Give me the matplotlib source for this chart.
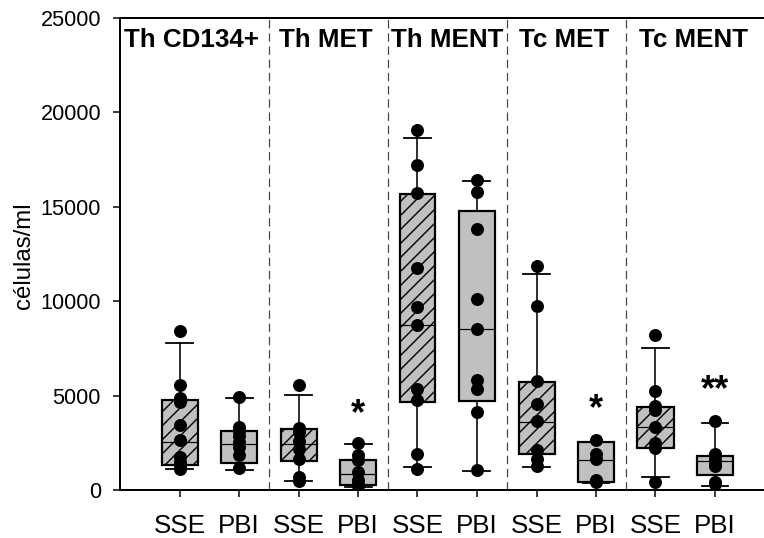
import matplotlib
matplotlib.use("Agg")
import matplotlib.pyplot as plt
import numpy as np

DPI = 84


def pt(px):
    """Convert a size in pixels to points at the figure resolution."""
    return px * 72.0 / DPI


plt.rcParams["font.family"] = ["Liberation Sans", "DejaVu Sans"]
plt.rcParams["hatch.linewidth"] = pt(1.4)
plt.rcParams["hatch.color"] = "black"

# Cell populations and sample types
groups = ["Th CD134+", "Th MET", "Th MENT", "Tc MET", "Tc MENT"]
conditions = ["SSE", "PBI"]

# Individual measurements (cells/ml), one list per box: SSE, PBI for each group
points = [
    [8400, 5550, 4850, 4650, 3450, 2650, 1750, 1500, 1250, 1100],
    [4900, 3350, 3100, 2850, 2550, 2300, 1850, 1150],
    [5550, 3300, 3050, 2600, 2150, 1650, 700, 500],
    [2500, 1850, 1600, 950, 550, 300, 200],
    [19050, 17200, 15750, 11750, 9700, 8750, 5350, 4750, 1900, 1100],
    [16400, 15800, 13850, 10100, 8550, 5800, 5350, 4150, 1050],
    [11850, 9750, 5750, 4550, 3650, 2100, 1650, 1250],
    [2650, 1900, 1650, 550, 400],
    [8200, 5250, 4450, 4250, 3350, 2500, 2200, 400],
    [3650, 1900, 1650, 1400, 1250, 450, 300],
]

# Box summaries (10th, 25th, 50th, 75th, 90th percentiles)
whislo = [1120, 1060, 500, 180, 1200, 1030, 1240, 350, 700, 220]
q1 = [1330, 1420, 1540, 290, 4660, 4710, 1930, 440, 2210, 800]
median = [2520, 2450, 2410, 860, 8730, 8510, 3590, 1570, 3350, 1520]
q3 = [4770, 3120, 3210, 1600, 15700, 14800, 5700, 2550, 4420, 1790]
whishi = [7800, 4880, 5050, 2430, 18650, 16380, 11420, 2550, 7530, 3570]

# Significance marks: box index, symbol, height
sig_boxes = [3, 7, 9]
sig_labels = ["*", "*", "**"]
sig_heights = [4000, 4250, 5250]

fig = plt.figure(figsize=(764 / DPI, 538 / DPI), dpi=DPI)
ax = fig.add_axes([120 / 764, 48 / 538, 644 / 764, 472 / 538])

positions = np.arange(1, len(points) + 1)
stats = [
    dict(med=m, q1=a, q3=b, whislo=lo, whishi=hi, fliers=[])
    for m, a, b, lo, hi in zip(median, q1, q3, whislo, whishi)
]
bp = ax.bxp(
    stats,
    positions=positions,
    widths=36 / 59.5,
    capwidths=27 / 59.5,
    patch_artist=True,
    showfliers=False,
    boxprops=dict(facecolor="#c0c0c0", edgecolor="black", linewidth=pt(2.2)),
    medianprops=dict(color="black", linewidth=pt(1.2)),
    whiskerprops=dict(color="black", linewidth=pt(1.6)),
    capprops=dict(color="black", linewidth=pt(1.8)),
    zorder=2,
)
for i, box in enumerate(bp["boxes"]):
    if i % 2 == 0:
        box.set_hatch("//")

for pos, vals in zip(positions, points):
    ax.scatter(np.full(len(vals), pos), vals, s=pt(13) ** 2,
               color="black", linewidths=0, zorder=4)

# Dashed separators between cell populations
for x in np.arange(2.5, len(points), 2):
    ax.axvline(x, color="#444444", lw=pt(1.2), dashes=(7, 4), zorder=1)

# Population headers
header_x = [0.06, 2.68, 4.56, 6.71, 8.73]
for x, name in zip(header_x, groups):
    ax.text(x, 23450, name, fontsize=pt(26), fontweight="bold",
            ha="left", va="baseline")

for idx, lab, h in zip(sig_boxes, sig_labels, sig_heights):
    ax.text(positions[idx], h, lab, fontsize=pt(36), fontweight="bold",
            ha="center", va="center")

ax.set_xlim(0, 644 / 59.5)
ax.set_ylim(0, 25000)
ax.set_yticks(np.arange(0, 25001, 5000))
ax.set_xticks(positions)
ax.set_xticklabels([conditions[i % 2] for i in range(len(points))])

ax.spines["right"].set_visible(False)
for s in ["top", "left", "bottom"]:
    ax.spines[s].set_linewidth(pt(2))

ax.tick_params(axis="both", direction="out", length=pt(7), width=pt(1.5),
               color="black")
ax.tick_params(axis="x", labelsize=pt(26), pad=pt(17))
ax.tick_params(axis="y", labelsize=pt(21.6), pad=pt(12))

ax.set_ylabel("células/ml", fontsize=pt(24))
ax.yaxis.set_label_coords((35 - 120) / 644, (490 - 256) / 472)

fig.savefig("out.png", dpi=DPI)
